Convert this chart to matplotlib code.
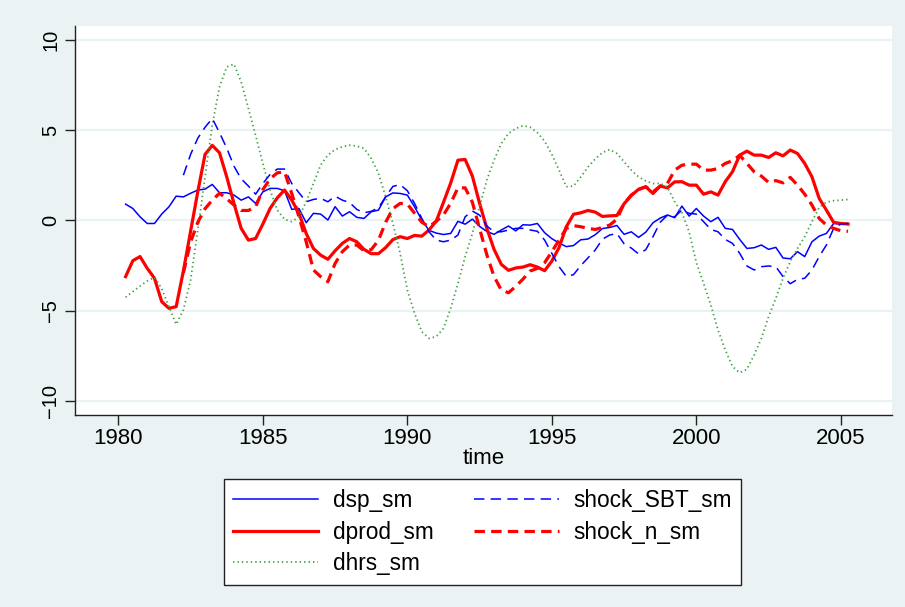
import numpy as np
import matplotlib
matplotlib.use("Agg")
import matplotlib.pyplot as plt

# quarterly, 1980q2 .. 2005q2
dsp_sm = [0.9, 0.66, 0.2, -0.17, -0.17, 0.35, 0.75, 1.34, 1.3, 1.5, 1.68, 1.73, 1.99, 1.53, 1.53, 1.4,
          1.12, 1.3, 0.94, 1.58, 1.77, 1.77, 1.64, 0.61, 0.66, -0.13, 0.39, 0.35, 0.02, 0.76, 0.24, 0.48,
          0.17, 0.11, 0.48, 0.57, 1.3, 1.52, 1.49, 1.4, 0.75, 0.02, -0.55, -0.7, -0.78, -0.72, -0.05, -0.21,
          0.07, -0.33, -0.61, -0.77, -0.53, -0.31, -0.58, -0.24, -0.26, -0.17, -0.68, -1.01, -1.25, -1.45,
          -1.39, -1.07, -1.03, -0.79, -0.45, -0.39, -0.28, -0.77, -0.63, -0.94, -0.65, -0.13, 0.13, 0.3,
          0.15, 0.79, 0.24, 0.66, 0.24, -0.07, 0.17, -0.44, -0.5, -1.05, -1.55, -1.51, -1.36, -1.6, -1.49,
          -2.08, -2.12, -1.73, -2.0, -1.18, -0.87, -0.72, -0.17, -0.2, -0.2]

dprod_sm = [-3.11, -2.23, -2.0, -2.65, -3.2, -4.49, -4.86, -4.77, -2.8, -0.6, 1.6, 3.65, 4.15, 3.74, 2.41,
            0.94, -0.44, -1.09, -1.0, -0.2, 0.66, 1.25, 1.68, 1.12, 0.39, -0.72, -1.55, -1.92, -2.15, -1.68,
            -1.27, -1.0, -1.18, -1.6, -1.84, -1.84, -1.5, -1.06, -0.9, -1.0, -0.83, -0.87, -0.53, -0.04, 1.0,
            2.07, 3.33, 3.37, 2.45, 0.94, -0.44, -1.6, -2.43, -2.76, -2.63, -2.58, -2.45, -2.58, -2.78, -2.25,
            -1.5, -0.35, 0.34, 0.42, 0.55, 0.46, 0.22, 0.25, 0.27, 0.92, 1.38, 1.72, 1.86, 1.49, 1.9, 1.8,
            2.13, 2.14, 1.95, 1.95, 1.45, 1.58, 1.4, 2.14, 2.69, 3.61, 3.83, 3.61, 3.61, 3.48, 3.74, 3.57,
            3.89, 3.7, 3.15, 2.41, 1.22, 0.57, -0.11, -0.17, -0.2]

dhrs_sm = [-4.25, -3.94, -3.63, -3.35, -3.15, -3.76, -4.77, -5.75, -4.95, -3.3, -0.53, 2.41, 5.27, 7.38, 8.49,
           8.64, 7.66, 6.19, 4.7, 3.15, 1.68, 0.57, 0.06, -0.07, 0.2, 1.03, 2.04, 3.06, 3.61, 3.92, 4.07,
           4.16, 4.11, 3.98, 3.43, 2.6, 1.31, -0.17, -1.82, -3.85, -5.14, -6.15, -6.52, -6.43, -5.97, -4.86,
           -3.48, -2.0, -0.72, 0.76, 2.23, 3.33, 4.25, 4.81, 5.08, 5.24, 5.15, 4.85, 4.38, 3.65, 2.78, 1.86,
           1.9, 2.4, 2.95, 3.4, 3.75, 3.92, 3.7, 3.24, 2.78, 2.41, 2.18, 2.04, 2.05, 1.85, 1.03, 0.43, -0.63,
           -2.34, -3.48, -4.68, -6.06, -7.16, -8.08, -8.42, -8.23, -7.44, -6.52, -5.32, -4.31, -3.2, -2.28,
           -1.55, -0.9, -0.07, 0.72, 1.01, 1.09, 1.12, 1.16]

nan = np.nan
shock_SBT_sm = [nan] * 8 + [
    2.5, 3.65, 4.55, 5.15, 5.64, 4.85, 4.0, 3.0, 2.3, 1.9, 1.45, 2.04, 2.54, 2.84, 2.84, 2.04, 1.53, 1.03,
    1.16, 1.22, 1.03, 1.34, 1.12, 0.99, 0.61, 0.42, 0.5, 0.7, 1.31, 1.88, 1.98, 1.64, 0.94, 0.11, -0.63,
    -1.09, -1.18, -1.09, -0.81, 0.2, 0.52, 0.29, -0.31, -0.63, -0.63, -0.53, -0.44, -0.44, -0.53, -0.6,
    -1.09, -1.82, -2.56, -3.1, -3.0, -2.5, -2.07, -1.64, -1.04, -0.81, -0.72, -1.29, -1.53, -1.85, -1.62,
    -0.9, -0.1, 0.29, 0.2, 0.57, 0.39, 0.35, -0.07, -0.5, -0.63, -1.05, -1.27, -1.82, -2.52, -2.74, -2.56,
    -2.52, -2.56, -3.11, -3.5, -3.26, -3.2, -2.74, -2.0, -1.36, -0.44, -0.2, -0.17]

shock_n_sm = [nan] * 8 + [
    -2.9, -1.2, -0.1, 0.65, 1.12, 1.5, 1.2, 0.85, 0.55, 0.55, 0.75, 1.7, 2.3, 2.63, 2.69, 1.49, 0.2, -1.18,
    -2.74, -3.11, -3.39, -2.38, -1.73, -1.36, -1.36, -1.68, -1.62, -1.1, -0.1, 0.65, 0.94, 0.9, 0.4, -0.1,
    -0.35, -0.05, 0.3, 0.95, 1.8, 1.8, 1.0, -0.45, -1.9, -3.1, -3.85, -4.0, -3.65, -3.25, -2.8, -2.65,
    -2.34, -1.73, -1.09, -0.44, -0.29, -0.35, -0.44, -0.5, -0.39, -0.26, 0.06, 0.94, 1.4, 1.71, 1.86,
    1.58, 1.9, 2.04, 2.78, 3.05, 3.11, 3.11, 2.78, 2.78, 2.87, 3.15, 3.3, 3.6, 3.15, 2.69, 2.45, 2.1, 2.2,
    2.08, 2.38, 1.95, 1.45, 0.85, 0.11, -0.26, -0.44, -0.57, -0.6]

time = 1980.25 + 0.25 * np.arange(len(dsp_sm))
xticks = [1980, 1985, 1990, 1995, 2000, 2005]
yticks = [-10, -5, 0, 5, 10]

plt.rcParams['font.family'] = ['Liberation Sans', 'DejaVu Sans']
plt.rcParams['lines.scale_dashes'] = False

bg = '#EAF2F3'
fig = plt.figure(figsize=(9.05, 6.07), dpi=100, facecolor=bg)
ax = fig.add_axes([75 / 905, 1 - 415 / 607, (892 - 75) / 905, (415 - 26) / 607])
ax.set_facecolor('white')

for y in yticks:
    ax.axhline(y, color=bg, lw=1.6, zorder=0)

ax.plot(time, dsp_sm, color='#0000FF', lw=1.1, label='dsp_sm')
ax.plot(time, dprod_sm, color='#FF0000', lw=2.3, label='dprod_sm')
ax.plot(time, dhrs_sm, color='#44A044', lw=1.3, dashes=(1.0, 2.2), label='dhrs_sm')
ax.plot(time, shock_SBT_sm, color='#0000FF', lw=1.1, dashes=(7.5, 4.5), label='shock_SBT_sm')
ax.plot(time, shock_n_sm, color='#FF0000', lw=2.3, dashes=(7.5, 4.5), label='shock_n_sm')

ax.set_xlim(1978.5, 2006.77)
ax.set_ylim(-10.76, 10.75)
ax.set_xticks(xticks)
ax.set_yticks(yticks)
ax.tick_params(axis='both', direction='out', length=7, width=1, color='#222222')
ax.tick_params(axis='x', labelsize=16, pad=2)
ax.tick_params(axis='y', labelsize=14.5, labelrotation=90)
for lab in ax.get_yticklabels():
    lab.set_verticalalignment('center')
ax.set_xlabel('time', fontsize=16, labelpad=0)
for s in ['top', 'right']:
    ax.spines[s].set_visible(False)
for s in ['left', 'bottom']:
    ax.spines[s].set_color('#222222')
    ax.spines[s].set_linewidth(1.0)

leg = fig.legend(loc='center', bbox_to_anchor=(482.5 / 905, 1 - 532 / 607), ncol=2, fontsize=16.3,
                 frameon=True, fancybox=False, edgecolor='#222222', framealpha=1,
                 handlelength=3.76, handletextpad=0.62, columnspacing=1.8, labelspacing=0.38,
                 borderpad=0.42)
leg.get_frame().set_linewidth(1.0)

fig.savefig('out.png', dpi=100, facecolor=bg)
